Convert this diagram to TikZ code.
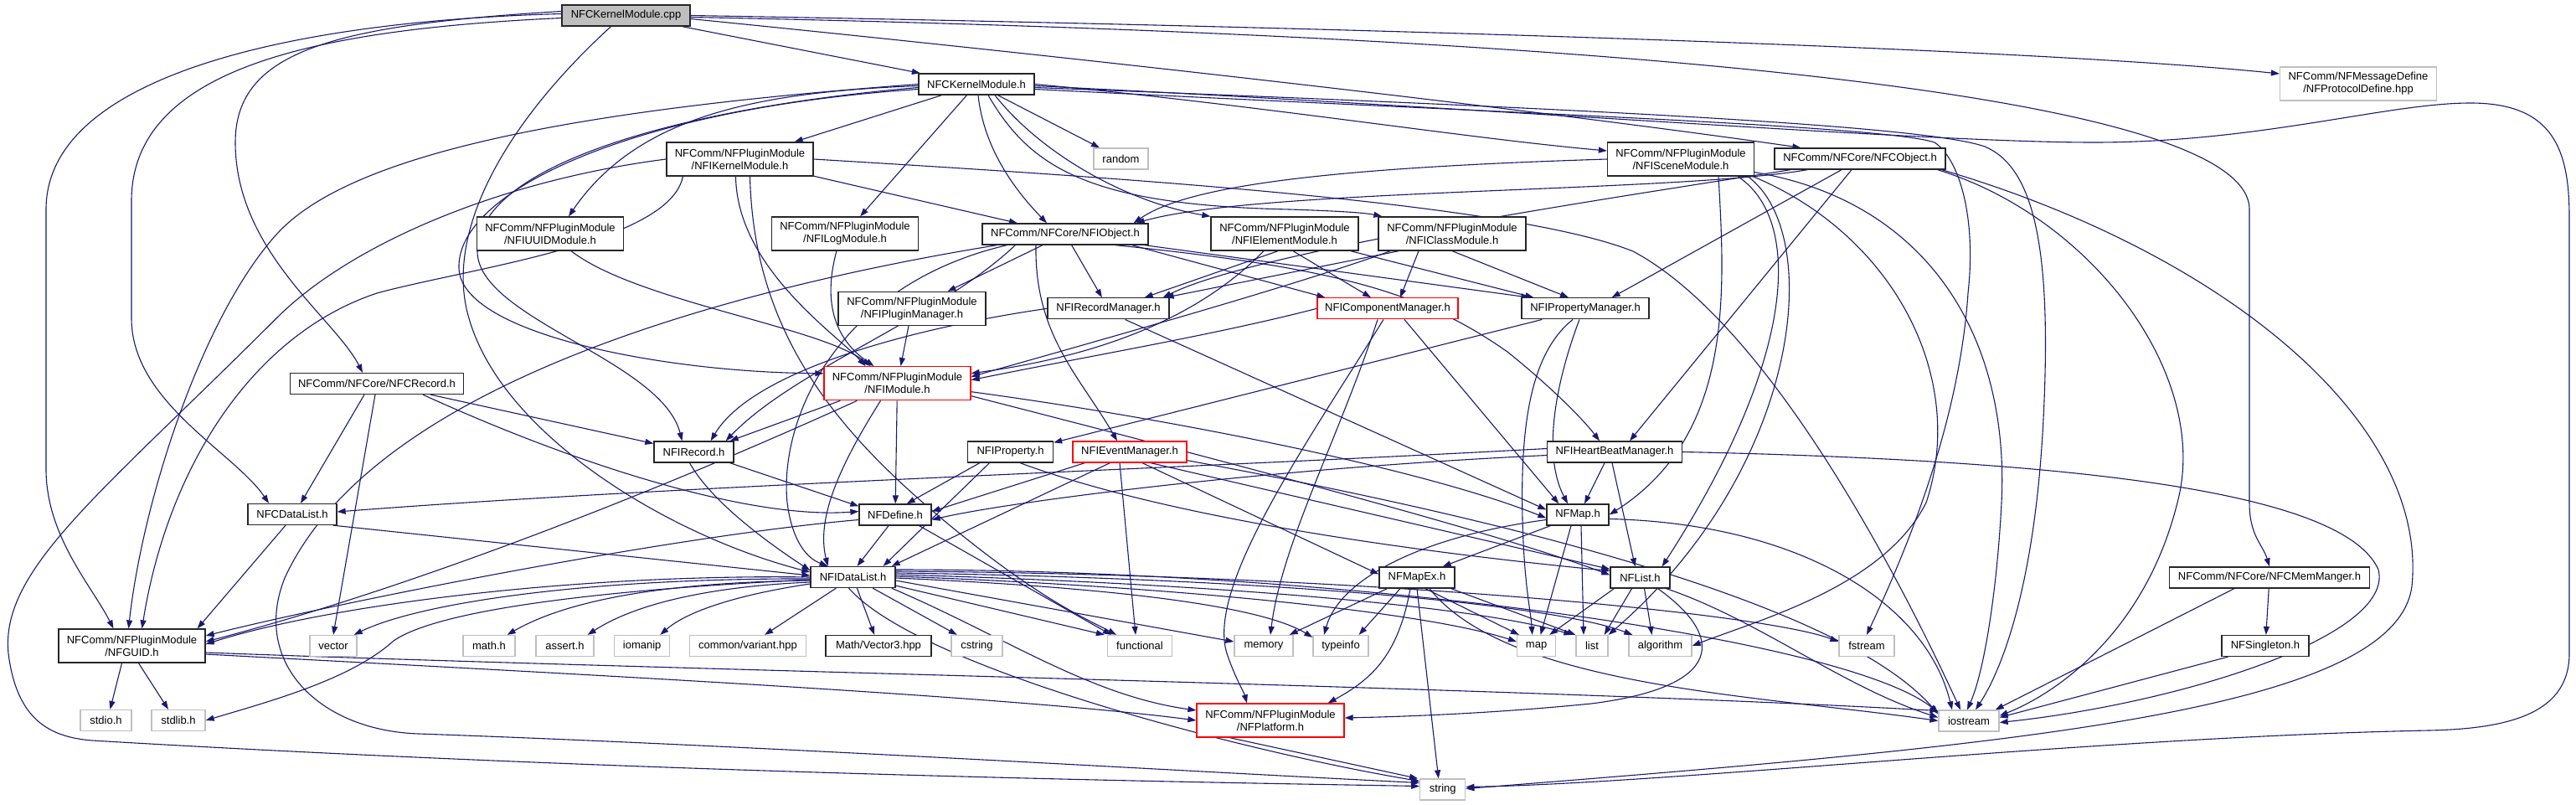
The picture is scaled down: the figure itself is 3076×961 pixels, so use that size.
\documentclass[tikz,border=0pt]{standalone}
\usepackage{fontspec}
\setmainfont{Liberation Sans}
\usetikzlibrary{arrows.meta,calc}
\definecolor{edgec}{HTML}{191970}
\definecolor{graybd}{HTML}{BFBFBF}
\newcommand{\fsz}{\fontsize{13}{15}\selectfont}
\pgfdeclarelayer{bg}
\pgfsetlayers{bg,main}
\begin{document}
\begin{tikzpicture}[x=1pt,y=-1pt,
  nb/.style={draw=black!85, line width=1.3pt, fill=white, inner sep=0pt, minimum height=25pt, align=center, font=\fsz},
  tl/.style={minimum height=40pt},
  sys/.style={draw=graybd},
  rb/.style={draw=red},
  w/.style={minimum width=#1pt},
  e/.style={draw=edgec, line width=1.1pt, -{Triangle[length=10pt,width=7pt]}}]
\useasboundingbox (0,0) rectangle (3076,961);
% nodes
\node[nb,w=153,fill=graybd] (cpp) at (747.5,18.5) {NFCKernelModule.cpp};
\node[nb,w=138] (kmh) at (1166,100.5) {NFCKernelModule.h};
\node[nb,sys,w=187,tl] (proto) at (2816,100) {NFComm/NFMessageDefine\\/NFProtocolDefine.hpp};
\node[nb,w=175,tl] (ikm) at (883.5,190) {NFComm/NFPluginModule\\/NFIKernelModule.h};
\node[nb,sys,w=65] (srandom) at (1338.5,189.5) {random};
\node[nb,w=175,tl] (scene) at (2007,190) {NFComm/NFPluginModule\\/NFISceneModule.h};
\node[nb,w=204] (cobj) at (2221,189.5) {NFComm/NFCore/NFCObject.h};
\node[nb,w=175,tl] (uuid) at (657,279) {NFComm/NFPluginModule\\/NFIUUIDModule.h};
\node[nb,w=175,tl] (log) at (1009,279) {NFComm/NFPluginModule\\/NFILogModule.h};
\node[nb,w=198] (iobj) at (1272,279.5) {NFComm/NFCore/NFIObject.h};
\node[nb,w=176,tl] (elem) at (1534,279) {NFComm/NFPluginModule\\/NFIElementModule.h};
\node[nb,w=176,tl] (cls) at (1734,279) {NFComm/NFPluginModule\\/NFIClassModule.h};
\node[nb,w=176,tl] (pm) at (1089,368.5) {NFComm/NFPluginModule\\/NFIPluginManager.h};
\node[nb,w=145] (rm) at (1323.5,368.3) {NFIRecordManager.h};
\node[nb,rb,w=168] (cm) at (1657,368.3) {NFIComponentManager.h};
\node[nb,w=152] (ppm) at (1893,368.3) {NFIPropertyManager.h};
\node[nb,w=207] (crec) at (450,458) {NFComm/NFCore/NFCRecord.h};
\node[nb,rb,w=175,tl] (imod) at (1071.5,457.7) {NFComm/NFPluginModule\\/NFIModule.h};
\node[nb,w=95] (irec) at (828.5,539.5) {NFIRecord.h};
\node[nb,w=102] (iprop) at (1206.5,539.5) {NFIProperty.h};
\node[nb,rb,w=136] (iev) at (1349,539.5) {NFIEventManager.h};
\node[nb,w=161] (hb) at (1928,539.5) {NFIHeartBeatManager.h};
\node[nb,w=106] (cdl) at (349,614) {NFCDataList.h};
\node[nb,w=86] (def) at (1069,614.5) {NFDefine.h};
\node[nb,w=74] (map) at (1884,614.5) {NFMap.h};
\node[nb,w=101] (idl) at (1018.5,689) {NFIDataList.h};
\node[nb,w=90] (mapex) at (1692,689.5) {NFMapEx.h};
\node[nb,w=71] (lst) at (1958.5,689.5) {NFList.h};
\node[nb,w=239] (memm) at (2710,689.5) {NFComm/NFCore/NFCMemManger.h};
\node[nb,w=175,tl] (guid) at (157.5,771) {NFComm/NFPluginModule\\/NFGUID.h};
\node[nb,sys,w=56] (svector) at (398,771) {vector};
\node[nb,sys,w=62] (smath) at (584,771) {math.h};
\node[nb,sys,w=69] (sassert) at (674.5,771) {assert.h};
\node[nb,sys,w=66] (siomanip) at (766.7,771) {iomanip};
\node[nb,sys,w=139] (svariant) at (893,771) {common/variant.hpp};
\node[nb,w=126] (svec3) at (1049,771) {Math/Vector3.hpp};
\node[nb,sys,w=61] (scstring) at (1166.5,771) {cstring};
\node[nb,sys,w=77] (sfunc) at (1361,771) {functional};
\node[nb,sys,w=70] (smemory) at (1509,771) {memory};
\node[nb,sys,w=66] (stypeinfo) at (1601,771) {typeinfo};
\node[nb,sys,w=46] (smap) at (1834.6,771) {map};
\node[nb,sys,w=38] (slist) at (1901,771) {list};
\node[nb,sys,w=75] (salgo) at (1982.5,771) {algorithm};
\node[nb,sys,w=66] (sfstream) at (2229,771) {fstream};
\node[nb,w=104] (single) at (2705,771) {NFSingleton.h};
\node[nb,sys,w=61] (sstdio) at (126.5,860) {stdio.h};
\node[nb,sys,w=64] (sstdlib) at (213,860) {stdlib.h};
\node[nb,rb,w=176,tl] (plat) at (1517,860) {NFComm/NFPluginModule\\/NFPlatform.h};
\node[nb,sys,w=72] (siostream) at (2351,860.5) {iostream};
\node[nb,sys,w=54] (sstring) at (1722.7,942.5) {string};
\begin{pgfonlayer}{bg}
\fill[white] (0,0) rectangle (3076,961);
% cpp
\draw[e] (cpp) -- (kmh);
\draw[e] (cpp.east) .. controls (1500,30) and (2400,55) .. ($(proto.west)+(0,-12)$);
\draw[e] ($(cpp.east)+(0,4)$) .. controls (1400,80) and (1900,140) .. ($(cobj.north west)+(32,0)$);
\draw[e] ($(cpp.east)+(0,2)$) .. controls (1800,40) and (2686,100) .. (2686,250) -- (2686,600) .. controls (2686,640) and (2702,650) .. (memm.north);
\draw[e] ($(cpp.west)+(0,-2)$) .. controls (350,25) and (55,90) .. (55,250) -- (55,560) .. controls (55,640) and (110,700) .. ($(guid.north)+(-22,0)$);
\draw[e] ($(cpp.west)+(0,3)$) .. controls (380,35) and (157,80) .. (157,240) -- (157,380) .. controls (157,480) and (280,540) .. ($(cdl.north)+(-28,0)$);
\draw[e] ($(cpp.west)+(0,-5)$) .. controls (400,30) and (281,60) .. (281,170) .. controls (281,300) and (400,380) .. ($(crec.north)+(-17,0)$);
\draw[e] ($(cpp.south)+(-18,0)$) .. controls (600,150) and (530,280) .. (560,380) .. controls (600,520) and (800,640) .. ($(idl.west)+(0,-6)$);
% kmh
\draw[e] (kmh) -- (ikm);
\draw[e] (kmh) -- (log);
\draw[e] (kmh) -- (srandom);
\draw[e] ($(kmh.south)+(2,0)$) .. controls (1175,180) and (1215,230) .. ($(iobj.north)+(-22,0)$);
\draw[e] ($(kmh.south)+(22,0)$) .. controls (1240,180) and (1340,240) .. (elem.north west);
\draw[e] ($(kmh.south)+(14,0)$) .. controls (1230,200) and (1300,245) .. (1540,250) .. controls (1600,252) and (1630,254) .. ($(cls.north west)+(5,0)$);
\draw[e] (kmh.east) .. controls (1500,125) and (1750,165) .. ($(scene.west)+(0,-10)$);
\draw[e] ($(kmh.west)+(0,2)$) .. controls (900,110) and (760,140) .. ($(uuid.north)+(22,0)$);
\draw[e] ($(kmh.west)+(0,4)$) .. controls (800,130) and (570,200) .. (570,300) .. controls (570,380) and (790,430) .. ($(irec.north)+(-14,0)$);
\draw[e] ($(kmh.west)+(0,6)$) .. controls (750,130) and (545,230) .. (548,320) .. controls (550,400) and (800,445) .. ($(imod.west)+(0,-12)$);
\draw[e] (kmh.west) .. controls (700,130) and (420,180) .. (330,280) .. controls (240,380) and (170,600) .. ($(guid.north)+(-4,0)$);
\draw[e] ($(kmh.east)+(0,2)$) .. controls (1800,130) and (2300,170) .. (2500,170) .. controls (2700,170) and (2850,123) .. (2950,123) .. controls (3050,123) and (3068,180) .. (3068,260) -- (3068,780) .. controls (3068,850) and (3000,870) .. (2900,872) .. controls (2500,880) and (2000,935) .. ($(sstring.east)+(0,-3)$);
\draw[e] ($(kmh.east)+(0,4)$) .. controls (1900,130) and (2300,150) .. (2370,175) .. controls (2430,200) and (2450,300) .. (2440,500) .. controls (2430,700) and (2390,800) .. ($(siostream.north)+(8,0)$);
\draw[e] ($(kmh.east)+(0,6)$) .. controls (1800,135) and (2250,150) .. (2310,170) .. controls (2340,190) and (2360,260) .. (2350,350) .. controls (2340,500) and (2280,650) .. (sfstream.north);
% ikm
\draw[e] (ikm) -- (iobj);
\draw[e] ($(ikm.south)+(-5,0)$) .. controls (880,320) and (1000,400) .. ($(imod.north)+(-38,0)$);
\draw[e] (ikm.west) .. controls (600,215) and (420,290) .. (330,380) .. controls (120,590) and (0,680) .. (10,780) .. controls (20,860) and (60,880) .. (110,884) .. controls (800,925) and (1500,935) .. ($(sstring.west)+(0,-4)$);
\draw[e] ($(ikm.south west)+(20,0)$) .. controls (800,290) and (560,320) .. (450,350) .. controls (300,400) and (200,560) .. ($(guid.north)+(12,0)$);
\draw[e] ($(ikm.south)+(12,0)$) .. controls (900,400) and (1000,520) .. (1150,640) .. controls (1250,720) and (1300,740) .. ($(sfunc.north)+(-28,0)$);
\draw[e] (ikm.east) .. controls (1300,210) and (1800,240) .. (1950,300) .. controls (2100,380) and (2250,650) .. ($(siostream.north)+(-10,0)$);
% uuid, log, pm
\draw[e] ($(uuid.south)+(25,0)$) .. controls (760,360) and (980,390) .. ($(imod.north)+(-32,0)$);
\draw[e] ($(log.south)+(-10,0)$) .. controls (985,350) and (990,400) .. ($(imod.north)+(-28,0)$);
\draw[e] (pm) -- (imod);
% iobj
\draw[e] (iobj) -- (pm);
\draw[e] (iobj) -- (rm);
\draw[e] ($(iobj.south east)+(-20,0)$) -- ($(cm.north west)+(10,0)$);
\draw[e] ($(iobj.south east)+(-5,0)$) -- ($(ppm.north west)+(10,0)$);
\draw[e] ($(iobj.south east)+(-40,0)$) .. controls (1600,320) and (1700,350) .. (1800,420) .. controls (1850,460) and (1890,500) .. ($(hb.north)+(-18,0)$);
\draw[e] ($(iobj.south)+(-35,0)$) .. controls (1235,400) and (1290,450) .. ($(iev.north)+(-15,0)$);
\draw[e] ($(iobj.south west)+(40,0)$) .. controls (1120,380) and (950,440) .. ($(irec.north east)+(-10,0)$);
\draw[e] ($(iobj.south west)+(30,0)$) .. controls (1000,340) and (930,500) .. (940,600) .. controls (945,640) and (960,665) .. ($(idl.north)+(-30,0)$);
\draw[e] ($(iobj.south west)+(18,0)$) .. controls (900,340) and (450,450) .. (340,690) .. controls (300,790) and (380,872) .. (500,876) .. controls (900,890) and (1400,920) .. ($(sstring.west)+(0,-8)$);
% elem, cls
\draw[e] ($(elem.south)+(-25,0)$) .. controls (1450,360) and (1350,420) .. ($(imod.east)+(0,-12)$);
\draw[e] ($(cls.south west)+(15,0)$) .. controls (1550,340) and (1300,410) .. ($(imod.east)+(0,-8)$);
\draw[e] (cm.west) .. controls (1450,400) and (1300,425) .. ($(imod.east)+(0,-4)$);
\draw[e] ($(elem.south)+(-8,0)$) -- ($(rm.north east)+(-30,0)$);
\draw[e] ($(elem.south)+(10,0)$) -- ($(cm.north)+(-20,0)$);
\draw[e] ($(elem.south east)+(-10,0)$) -- ($(ppm.north west)+(15,0)$);
\draw[e] ($(cls.south west)+(25,0)$) -- ($(rm.north east)+(-5,0)$);
\draw[e] ($(cls.south)+(-40,0)$) -- ($(cm.north)+(15,0)$);
\draw[e] (cls.south) -- ($(ppm.north)+(-20,0)$);
% cobj
\draw[e] ($(cobj.south west)+(40,0)$) .. controls (2000,230) and (1500,225) .. ($(iobj.north east)+(-15,0)$);
\draw[e] ($(cobj.south)+(-22,0)$) -- ($(ppm.north east)+(-45,0)$);
\draw[e] ($(cobj.south)+(-10,0)$) -- ($(hb.north)+(18,0)$);
\draw[e] ($(cobj.south west)+(20,0)$) .. controls (1900,240) and (1500,300) .. ($(rm.north east)+(-8,0)$);
\draw[e] ($(cobj.south east)+(-10,0)$) .. controls (2500,260) and (2640,450) .. (2600,600) .. controls (2560,760) and (2450,830) .. ($(siostream.east)+(0,-6)$);
\draw[e] ($(cobj.south east)+(-5,0)$) .. controls (2650,300) and (2900,500) .. (2880,700) .. controls (2860,850) and (2400,890) .. ($(sstring.east)+(0,-1)$);
% scene
\draw[e] (scene.west) .. controls (1600,200) and (1420,220) .. ($(iobj.north east)+(-18,0)$);
\draw[e] ($(scene.south)+(45,0)$) .. controls (2060,350) and (2070,520) .. (map.east);
\draw[e] ($(scene.south east)+(-20,0)$) .. controls (2150,260) and (2150,420) .. ($(lst.north east)+(-10,0)$);
\draw[e] ($(scene.south east)+(-8,0)$) .. controls (2180,280) and (2150,560) .. (slist.north east);
\draw[e] ($(scene.south east)+(-2,0)$) .. controls (2260,280) and (2350,450) .. (2300,600) .. controls (2250,700) and (2100,740) .. (salgo.east);
\draw[e] ($(scene.south east)+(0,-5)$) .. controls (2300,240) and (2400,400) .. (2390,600) .. controls (2385,700) and (2370,800) .. ($(siostream.north)+(-2,0)$);
% rm, cm, ppm
\draw[e] (rm.west) .. controls (1100,390) and (900,440) .. ($(irec.north east)+(-28,0)$);
\draw[e] ($(rm.south)+(20,0)$) -- ($(map.west)+(0,-6)$);
\draw[e] ($(cm.south)+(20,0)$) -- ($(map.north west)+(15,0)$);
\draw[e] ($(cm.south)+(-12,0)$) .. controls (1600,520) and (1530,650) .. ($(smemory.north)+(8,0)$);
\draw[e] ($(cm.south)+(-5,0)$) .. controls (1560,530) and (1440,700) .. (1465,780) .. controls (1475,810) and (1485,825) .. ($(plat.north)+(-28,0)$);
\draw[e] ($(ppm.south west)+(25,0)$) -- ($(iprop.north east)+(0,2)$);
\draw[e] ($(ppm.south)+(-15,0)$) .. controls (1830,420) and (1815,500) .. (1818,620) .. controls (1820,700) and (1828,730) .. ($(smap.north)+(-5,0)$);
\draw[e] ($(ppm.south)+(-7,0)$) .. controls (1860,450) and (1840,540) .. ($(map.north)+(-12,0)$);
% crec
\draw[e] ($(crec.south)+(-15,0)$) -- ($(cdl.north)+(10,0)$);
\draw[e] ($(crec.south)+(-2,0)$) -- (svector.north);
\draw[e] ($(crec.south east)+(-40,0)$) -- ($(irec.west)+(0,-10)$);
\draw[e] ($(crec.south)+(55,0)$) .. controls (700,560) and (900,620) .. ($(def.west)+(0,-4)$);
% imod
\draw[e] ($(imod.south west)+(20,0)$) -- ($(irec.north east)+(-5,0)$);
\draw[e] (imod) -- (def);
\draw[e] ($(imod.south)+(-20,0)$) .. controls (1000,560) and (975,620) .. ($(idl.north)+(-30,0)$);
\draw[e] ($(imod.south west)+(40,0)$) .. controls (800,580) and (500,700) .. ($(guid.east)+(0,-5)$);
\draw[e] ($(imod.east)+(0,10)$) .. controls (1400,500) and (1700,560) .. ($(map.west)+(0,4)$);
\draw[e] ($(imod.east)+(0,15)$) .. controls (1500,560) and (1800,640) .. ($(lst.west)+(0,-3)$);
% irec, iprop, iev, hb
\draw[e] ($(irec.south east)+(-5,0)$) -- ($(def.north west)+(0,3)$);
\draw[e] ($(irec.south)+(-5,0)$) .. controls (850,600) and (920,650) .. ($(idl.west)+(0,-8)$);
\draw[e] ($(iprop.south west)+(15,0)$) -- ($(def.north east)+(-30,0)$);
\draw[e] ($(iprop.south)+(-25,0)$) -- ($(idl.north east)+(-15,0)$);
\draw[e] ($(iprop.south east)+(-40,0)$) .. controls (1400,620) and (1700,660) .. ($(lst.west)+(0,-8)$);
\draw[e] ($(iev.south west)+(15,0)$) -- ($(def.east)+(0,-4)$);
\draw[e] ($(iev.south west)+(45,0)$) -- ($(idl.north east)+(-5,0)$);
\draw[e] ($(iev.south)+(-12,0)$) -- ($(sfunc.north)+(-5,0)$);
\draw[e] ($(iev.south)+(15,0)$) -- ($(mapex.west)+(0,-4)$);
\draw[e] ($(iev.south)+(25,0)$) -- ($(lst.west)+(0,-10)$);
\draw[e] ($(iev.south east)+(0,-3)$) .. controls (1800,620) and (2200,720) .. ($(siostream.west)+(0,-8)$);
\draw[e] ($(hb.west)+(0,-4)$) .. controls (1400,560) and (800,580) .. ($(cdl.east)+(0,-3)$);
\draw[e] ($(hb.west)+(0,4)$) .. controls (1500,560) and (1200,600) .. ($(def.east)+(0,6)$);
\draw[e] ($(hb.south)+(-12,0)$) -- ($(map.north)+(8,0)$);
\draw[e] ($(hb.south)+(-3,0)$) -- ($(lst.north)+(-6,0)$);
\draw[e] (hb.east) .. controls (2500,550) and (2800,590) .. (2840,680) .. controls (2860,760) and (2600,840) .. ($(siostream.east)+(0,2)$);
% cdl, def
\draw[e] ($(cdl.south)+(-8,0)$) -- ($(guid.north east)+(-10,0)$);
\draw[e] ($(cdl.south east)+(-5,0)$) -- ($(idl.west)+(0,-2)$);
\draw[e] ($(def.south)+(-8,0)$) -- ($(idl.north)+(5,0)$);
\draw[e] ($(def.south east)+(-15,0)$) -- ($(sfunc.north west)+(5,0)$);
\draw[e] ($(def.west)+(0,6)$) .. controls (800,640) and (400,720) .. ($(guid.east)+(0,-12)$);
% map
\draw[e] ($(map.south west)+(5,0)$) -- ($(mapex.north east)+(-15,0)$);
\draw[e] ($(map.west)+(0,6)$) .. controls (1700,640) and (1600,690) .. ($(stypeinfo.north)+(-20,0)$);
\draw[e] ($(map.south)+(-8,0)$) -- ($(smap.north)+(5,0)$);
\draw[e] ($(map.south)+(4,0)$) -- ($(slist.north)+(-10,0)$);
\draw[e] ($(map.east)+(0,5)$) .. controls (2150,625) and (2300,720) .. ($(siostream.north)+(-20,0)$);
% mapex
\draw[e] ($(mapex.south west)+(10,0)$) -- ($(smemory.north east)+(-5,0)$);
\draw[e] ($(mapex.south)+(-20,0)$) -- ($(stypeinfo.north east)+(-12,0)$);
\draw[e] ($(mapex.south)+(10,0)$) -- ($(smap.north west)+(3,0)$);
\draw[e] ($(mapex.south east)+(-5,0)$) -- (slist.north west);
\draw[e] ($(mapex.south)+(-8,0)$) .. controls (1670,780) and (1640,810) .. ($(plat.north east)+(-20,0)$);
\draw[e] (mapex.south) -- ($(sstring.north)+(-5,0)$);
\draw[e] ($(mapex.south)+(15,0)$) .. controls (1800,820) and (2100,830) .. (siostream.west);
% lst
\draw[e] ($(lst.south west)+(5,0)$) -- ($(smap.north east)+(-8,0)$);
\draw[e] ($(lst.south)+(-10,0)$) -- ($(slist.north east)+(-5,0)$);
\draw[e] ($(lst.south)+(5,0)$) -- ($(salgo.north)+(-10,0)$);
\draw[e] ($(lst.south east)+(-15,0)$) .. controls (2060,760) and (2060,820) .. (1900,840) .. controls (1800,850) and (1700,855) .. ($(plat.east)+(0,-3)$);
\draw[e] ($(lst.south east)+(-5,0)$) .. controls (2100,740) and (2200,820) .. ($(siostream.west)+(0,-4)$);
% idl
\draw[e] ($(idl.west)+(0,8)$) .. controls (880,710) and (820,730) .. ($(siomanip.north east)+(-12,0)$);
\draw[e] ($(idl.west)+(0,6)$) .. controls (850,700) and (760,720) .. ($(sassert.north east)+(-8,0)$);
\draw[e] ($(idl.west)+(0,4)$) .. controls (800,695) and (680,715) .. ($(smath.north east)+(-10,0)$);
\draw[e] ($(idl.west)+(0,2)$) .. controls (700,690) and (500,720) .. ($(svector.north east)+(-4,0)$);
\draw[e] (idl.west) .. controls (700,685) and (400,720) .. ($(guid.east)+(0,-2)$);
\draw[e] ($(idl.west)+(0,3)$) .. controls (700,705) and (520,730) .. (470,765) .. controls (420,810) and (330,835) .. (sstdlib.east);
\draw[e] (idl) -- (svariant);
\draw[e] (idl) -- (svec3);
\draw[e] (idl) -- (scstring);
\draw[e] ($(idl.south east)+(0,-3)$) -- ($(sfunc.north west)+(-3,0)$);
\draw[e] ($(idl.east)+(0,4)$) -- ($(smemory.west)+(0,-5)$);
\draw[e] ($(idl.east)+(0,1)$) .. controls (1300,700) and (1500,720) .. ($(stypeinfo.north west)+(0,3)$);
\draw[e] ($(idl.east)+(0,-1)$) .. controls (1400,700) and (1700,730) .. ($(smap.west)+(0,-5)$);
\draw[e] ($(idl.east)+(0,-3)$) .. controls (1400,695) and (1750,720) .. ($(slist.north west)+(-4,0)$);
\draw[e] ($(idl.east)+(0,-5)$) .. controls (1500,690) and (1850,720) .. ($(salgo.north west)+(5,0)$);
\draw[e] ($(idl.east)+(0,-7)$) .. controls (1600,685) and (2100,730) .. ($(sfstream.west)+(0,-5)$);
\draw[e] ($(idl.east)+(0,-9)$) .. controls (1600,680) and (2200,760) .. ($(siostream.west)+(0,-10)$);
\draw[e] ($(idl.south east)+(-5,0)$) .. controls (1200,760) and (1300,830) .. ($(plat.west)+(0,-12)$);
\draw[e] ($(idl.south)+(-5,0)$) .. controls (1100,800) and (1500,900) .. ($(sstring.west)+(0,-10)$);
% guid
\draw[e] ($(guid.south)+(-12,0)$) -- ($(sstdio.north)+(5,0)$);
\draw[e] ($(guid.south)+(8,0)$) -- ($(sstdlib.north)+(-12,0)$);
\draw[e] ($(guid.east)+(0,10)$) .. controls (600,800) and (1200,830) .. (plat.west);
\draw[e] ($(guid.east)+(0,8)$) .. controls (800,800) and (1800,820) .. ($(siostream.west)+(0,-12)$);
% plat, memm, single
\draw[e] ($(plat.south west)+(40,0)$) -- ($(sstring.north west)+(-2,0)$);
\draw[e] (memm) -- (single);
\draw[e] ($(memm.south west)+(78,0)$) -- ($(siostream.north east)+(-5,0)$);
\draw[e] ($(single.south west)+(8,0)$) -- ($(siostream.east)+(0,-4)$);
\end{pgfonlayer}
\end{tikzpicture}
\end{document}
